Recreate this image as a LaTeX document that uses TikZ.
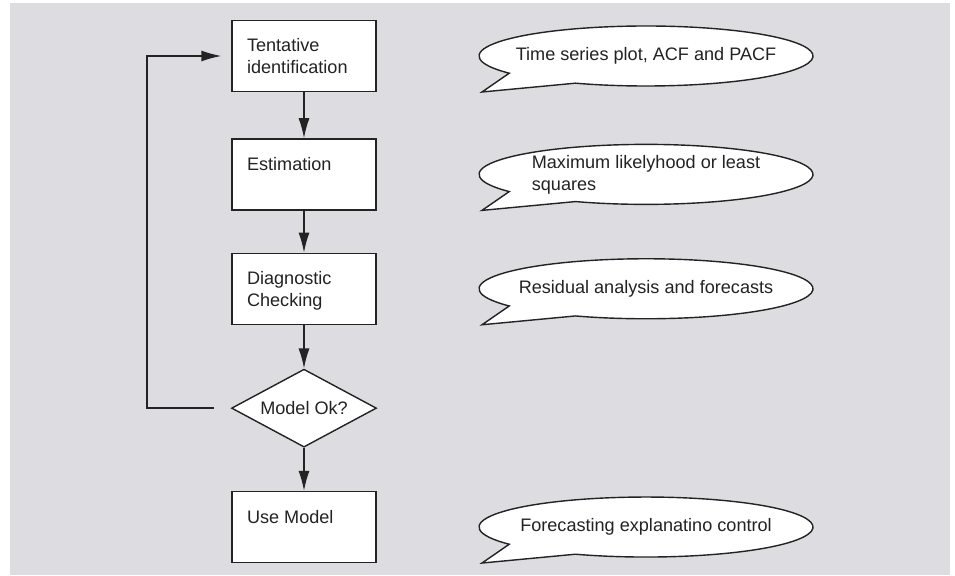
\documentclass[tikz,border=0pt]{standalone}
\usepackage{fontspec}
\setmainfont{Liberation Sans}
\usepackage{tikz}
\usetikzlibrary{shapes.geometric,arrows.meta,positioning,calc}
\definecolor{panelgray}{RGB}{221,221,225}
\definecolor{inkgray}{RGB}{35,35,35}
\newcommand{\boxtext}[1]{\parbox[c][1.42cm][t]{2.28cm}{\rule{0pt}{0.63cm}#1}}

\begin{document}
\begin{tikzpicture} [
    x = 0.02cm, y = 0.02cm,
    node distance = 0.9cm,
    every node/.style = { font = \fontsize{10.3}{12.5}\selectfont, text = inkgray },
    stepbox/.style = { draw = inkgray, thick, fill = white, inner sep = 0, minimum width = 2.88cm, minimum height = 1.42cm },
    decision/.style = { draw = inkgray, thick, fill = white, diamond, aspect = 1.86, inner sep = 0, minimum width = 2.9cm, minimum height = 1.56cm },
    flow/.style = { draw = inkgray, thick, -{Latex[length=0.4cm,width=0.22cm]} },
    bubble/.style = { draw = inkgray, thick, fill = white },
    note/.style = { align = left, inner sep = 0 }
    ]

    \useasboundingbox (0,0) rectangle (955,575);
    \fill[panelgray] (10,0) rectangle (950,572);

    \node[stepbox] (tent) at (304,519) {\boxtext{Tentative\\identification}};
    \node[stepbox, below = 0.92cm of tent] (est) {\boxtext{Estimation}};
    \node[stepbox, below = 0.84cm of est] (diag) {\boxtext{Diagnostic\\Checking}};
    \node[decision, below = 0.87cm of diag] (ok) {Model Ok?};
    \node[stepbox, below = 0.86cm of ok] (use) {\boxtext{Use Model}};

    \draw[flow] (tent) -- (est);
    \draw[flow] (est) -- (diag);
    \draw[flow] (diag) -- (ok);
    \draw[flow] (ok) -- (use);
    \draw[flow, shorten <= 0.34cm, shorten >= 0.2cm] (ok.west) -- ++(-84,0) |- (tent.west);

    % speech bubbles beside the steps
    \foreach \nd/\txt in {tent/{Time series plot, ACF and PACF},
                          est/{Maximum likelyhood or least\\squares},
                          diag/{Residual analysis and forecasts},
                          use/{Forecasting explanatino control}} {
        \coordinate (c) at ($(\nd)+(342,0)$);
        \draw[bubble] ($(c)+(215:3.34cm and 0.6cm)$) -- ($(c)+(-164,-36)$)
            -- ($(c)+(245:3.34cm and 0.6cm)$)
            arc[start angle=245, end angle=575, x radius=3.34cm, y radius=0.6cm] -- cycle;
        \node[note] (\nd-note) at (c) {\txt};
    }

\end{tikzpicture}
\end{document}
